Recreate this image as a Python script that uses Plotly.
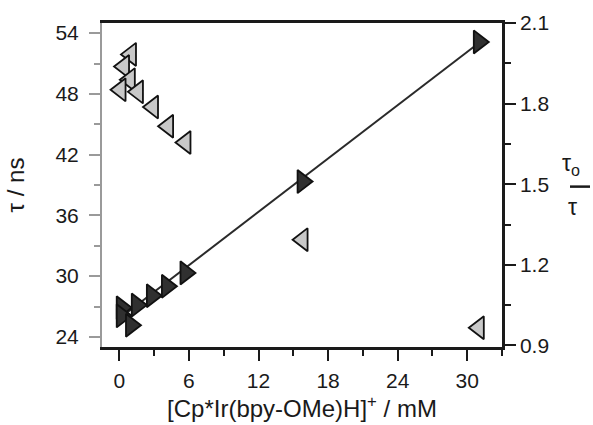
import plotly.graph_objects as go

# τ (left axis) data: concentration (mM) vs lifetime (ns)
conc_tau = [1.0, 0.4, 0.9, 0.1, 1.6, 2.9, 4.2, 5.7, 15.8, 31.0]
tau_ns = [51.9, 50.7, 49.4, 48.4, 48.2, 46.7, 44.8, 43.2, 33.6, 24.9]

# τo/τ (right axis) data
conc_ratio = [0.2, 0.2, 1.0, 1.5, 2.8, 4.1, 5.7, 15.8, 31.0]
tau_ratio = [1.04, 1.01, 0.975, 1.05, 1.085, 1.12, 1.17, 1.51, 2.03]

# linear fit line (Stern-Volmer)
fit_conc = [0.0, 31.0]
fit_ratio = [1.0, 2.026]

x_ticks = [0, 6, 12, 18, 24, 30]
left_ticks = [24, 30, 36, 42, 48, 54]
right_ticks = [0.9, 1.2, 1.5, 1.8, 2.1]

FONT = "Liberation Sans, Arial, sans-serif"
DARK = "#1a1a1a"
GREY = "#9a9a9a"

fig = go.Figure()

fig.add_trace(go.Scatter(
    x=conc_tau, y=tau_ns, mode="markers", yaxis="y",
    marker=dict(symbol="triangle-left", size=20, color="#c8c8c8",
                line=dict(color="#111111", width=1.8)),
    showlegend=False, cliponaxis=False))

fig.add_trace(go.Scatter(
    x=fit_conc, y=fit_ratio, mode="lines", yaxis="y2",
    line=dict(color="#2a2a2a", width=2), showlegend=False))

fig.add_trace(go.Scatter(
    x=conc_ratio, y=tau_ratio, mode="markers", yaxis="y2",
    marker=dict(symbol="triangle-right", size=20, color="#303030",
                line=dict(color="#111111", width=1.8)),
    showlegend=False, cliponaxis=False))

fig.update_layout(
    width=593, height=425,
    margin=dict(l=102, r=91, t=23, b=78),
    plot_bgcolor="white", paper_bgcolor="white",
    font=dict(family=FONT, size=21, color=DARK),
    xaxis=dict(
        range=[-1.5, 33], tickvals=x_ticks, ticks="outside", ticklen=11,
        tickwidth=2, tickcolor=DARK, showline=True, linewidth=2.5,
        linecolor=DARK, mirror=True, showgrid=False, zeroline=False,
        tickfont=dict(size=21, color=DARK), ticklabelstandoff=2,
        automargin=False,
        minor=dict(dtick=3, tick0=0, ticks="outside", ticklen=6,
                   tickwidth=2, tickcolor=DARK, showgrid=False),
        title=dict(text="[Cp*Ir(bpy-OMe)H]<sup>+</sup> / mM",
                   font=dict(size=24, color=DARK), standoff=8),
    ),
    yaxis=dict(
        range=[23, 55], tickvals=left_ticks, ticks="outside", ticklen=11,
        tickwidth=2, tickcolor=GREY, showline=True, linewidth=2,
        linecolor=GREY, showgrid=False, zeroline=False,
        tickfont=dict(size=21, color=DARK), ticklabelstandoff=6,
        automargin=False,
        minor=dict(dtick=3, tick0=0, ticks="outside", ticklen=6,
                   tickwidth=2, tickcolor=GREY, showgrid=False),
        title=dict(text="τ / ns", font=dict(size=24, color=DARK), standoff=24),
    ),
    yaxis2=dict(
        range=[0.894, 2.1005], tickvals=right_ticks, ticktext=["0.9", "1.2", "1.5", "1.8", "2.1"],
        overlaying="y", side="right", ticks="outside", ticklen=11,
        tickwidth=2, tickcolor=DARK, showline=True, linewidth=2.5,
        linecolor=DARK, showgrid=False, zeroline=False,
        tickfont=dict(size=21, color=DARK), automargin=False,
        minor=dict(dtick=0.15, tick0=0.9, ticks="outside", ticklen=6,
                   tickwidth=2, tickcolor=DARK, showgrid=False),
    ),
)

# right axis title: fraction τo / τ
fig.add_annotation(xref="paper", yref="paper", x=1.0, y=0.5, xshift=80, yshift=21,
                   text="τ<sub>o</sub>", showarrow=False,
                   font=dict(size=23, color=DARK, family=FONT))
fig.add_shape(type="line", xref="paper", yref="paper",
              x0=1.0 + 68 / 400, x1=1.0 + 88 / 400, y0=0.495, y1=0.495,
              line=dict(color=DARK, width=2.5))
fig.add_annotation(xref="paper", yref="paper", x=1.0, y=0.5, xshift=77, yshift=-22,
                   text="τ", showarrow=False,
                   font=dict(size=23, color=DARK, family=FONT))

fig.write_html("out.html")
